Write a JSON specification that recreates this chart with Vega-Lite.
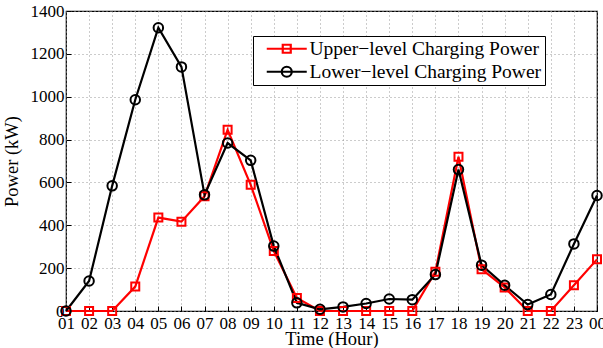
{
  "$schema": "https://vega.github.io/schema/vega-lite/v6.json",
  "autosize": "none",
  "width": 531,
  "height": 300,
  "padding": {"left": 66, "top": 11, "right": 6, "bottom": 37},
  "background": "white",
  "config": {
    "font": "Liberation Serif",
    "view": {"stroke": "black", "strokeWidth": 1.2},
    "axis": {
      "labelFont": "Liberation Serif",
      "titleFont": "Liberation Serif",
      "labelColor": "black",
      "titleColor": "black",
      "labelFontSize": 17,
      "titleFontSize": 18.5,
      "titleFontWeight": "normal",
      "domain": false,
      "tickColor": "black",
      "tickSize": -5,
      "grid": true,
      "gridColor": "#999999",
      "gridDash": [1, 3],
      "gridWidth": 1
    }
  },
  "data": {
    "values": [
      {"hour": "01", "series": "Upper−level Charging Power", "power": 0},
      {"hour": "02", "series": "Upper−level Charging Power", "power": 0},
      {"hour": "03", "series": "Upper−level Charging Power", "power": 0},
      {"hour": "04", "series": "Upper−level Charging Power", "power": 114},
      {"hour": "05", "series": "Upper−level Charging Power", "power": 436},
      {"hour": "06", "series": "Upper−level Charging Power", "power": 417},
      {"hour": "07", "series": "Upper−level Charging Power", "power": 535},
      {"hour": "08", "series": "Upper−level Charging Power", "power": 846},
      {"hour": "09", "series": "Upper−level Charging Power", "power": 589},
      {"hour": "10", "series": "Upper−level Charging Power", "power": 280},
      {"hour": "11", "series": "Upper−level Charging Power", "power": 61},
      {"hour": "12", "series": "Upper−level Charging Power", "power": 0},
      {"hour": "13", "series": "Upper−level Charging Power", "power": 0},
      {"hour": "14", "series": "Upper−level Charging Power", "power": 0},
      {"hour": "15", "series": "Upper−level Charging Power", "power": 0},
      {"hour": "16", "series": "Upper−level Charging Power", "power": 0},
      {"hour": "17", "series": "Upper−level Charging Power", "power": 183},
      {"hour": "18", "series": "Upper−level Charging Power", "power": 720},
      {"hour": "19", "series": "Upper−level Charging Power", "power": 195},
      {"hour": "20", "series": "Upper−level Charging Power", "power": 110},
      {"hour": "21", "series": "Upper−level Charging Power", "power": 0},
      {"hour": "22", "series": "Upper−level Charging Power", "power": 0},
      {"hour": "23", "series": "Upper−level Charging Power", "power": 120},
      {"hour": "00", "series": "Upper−level Charging Power", "power": 241},
      {"hour": "01", "series": "Lower−level Charging Power", "power": 0},
      {"hour": "02", "series": "Lower−level Charging Power", "power": 140},
      {"hour": "03", "series": "Lower−level Charging Power", "power": 584},
      {"hour": "04", "series": "Lower−level Charging Power", "power": 986},
      {"hour": "05", "series": "Lower−level Charging Power", "power": 1322},
      {"hour": "06", "series": "Lower−level Charging Power", "power": 1139},
      {"hour": "07", "series": "Lower−level Charging Power", "power": 542},
      {"hour": "08", "series": "Lower−level Charging Power", "power": 784},
      {"hour": "09", "series": "Lower−level Charging Power", "power": 703},
      {"hour": "10", "series": "Lower−level Charging Power", "power": 303},
      {"hour": "11", "series": "Lower−level Charging Power", "power": 38},
      {"hour": "12", "series": "Lower−level Charging Power", "power": 8},
      {"hour": "13", "series": "Lower−level Charging Power", "power": 19},
      {"hour": "14", "series": "Lower−level Charging Power", "power": 35},
      {"hour": "15", "series": "Lower−level Charging Power", "power": 56},
      {"hour": "16", "series": "Lower−level Charging Power", "power": 53},
      {"hour": "17", "series": "Lower−level Charging Power", "power": 170},
      {"hour": "18", "series": "Lower−level Charging Power", "power": 660},
      {"hour": "19", "series": "Lower−level Charging Power", "power": 214},
      {"hour": "20", "series": "Lower−level Charging Power", "power": 120},
      {"hour": "21", "series": "Lower−level Charging Power", "power": 30},
      {"hour": "22", "series": "Lower−level Charging Power", "power": 77},
      {"hour": "23", "series": "Lower−level Charging Power", "power": 313},
      {"hour": "00", "series": "Lower−level Charging Power", "power": 539}
    ]
  },
  "encoding": {
    "x": {
      "field": "hour",
      "type": "ordinal",
      "sort": null,
      "scale": {"type": "point", "padding": 0},
      "axis": {"title": "Time (Hour)", "labelAngle": 0, "labelPadding": 9, "titlePadding": -2}
    },
    "y": {
      "field": "power",
      "type": "quantitative",
      "scale": {"domain": [0, 1400], "nice": false},
      "axis": {"title": "Power (kW)", "format": "d", "values": [0, 200, 400, 600, 800, 1000, 1200, 1400], "labelPadding": 7, "titlePadding": 9}
    },
    "color": {
      "field": "series",
      "type": "nominal",
      "sort": ["Upper−level Charging Power", "Lower−level Charging Power"],
      "scale": {"domain": ["Upper−level Charging Power", "Lower−level Charging Power"], "range": ["#ff0000", "#000000"]},
      "legend": {
        "title": null,
        "orient": "none",
        "legendX": 187,
        "legendY": 25,
        "direction": "vertical",
        "fillColor": "white",
        "strokeColor": "black",
        "padding": 3,
        "labelFont": "Liberation Serif",
        "labelFontSize": 19.5,
        "labelColor": "black",
        "labelLimit": 400,
        "labelOffset": 34,
        "rowPadding": 2,
        "symbolSize": 100,
        "symbolStrokeWidth": 2.2,
        "symbolOpacity": 1,
        "symbolFillColor": "white",
        "encode": {
          "symbols": {
            "update": {
              "shape": {"signal": "datum.value === 'Upper−level Charging Power' ? 'M0.2,0H8.2M3.4,-0.8H5V0.8H3.4Z' : 'M0.2,0H8.2M5.2,0A1,1,0,1,1,3.2,0A1,1,0,1,1,5.2,0Z'"},
              "fill": {"value": "white"},
              "fillOpacity": {"value": 1},
              "strokeWidth": {"value": 2.2},
              "opacity": {"value": 1}
            }
          }
        }
      }
    }
  },
  "layer": [
    {
      "mark": {"type": "line", "strokeWidth": 2.2}
    },
    {
      "transform": [{"filter": "datum.series === 'Upper−level Charging Power'"}],
      "mark": {"type": "point", "shape": "square", "filled": false, "strokeWidth": 2, "size": 64, "opacity": 1}
    },
    {
      "transform": [{"filter": "datum.series === 'Lower−level Charging Power'"}],
      "mark": {"type": "point", "shape": "circle", "filled": false, "strokeWidth": 2, "size": 90, "opacity": 1}
    }
  ]
}
